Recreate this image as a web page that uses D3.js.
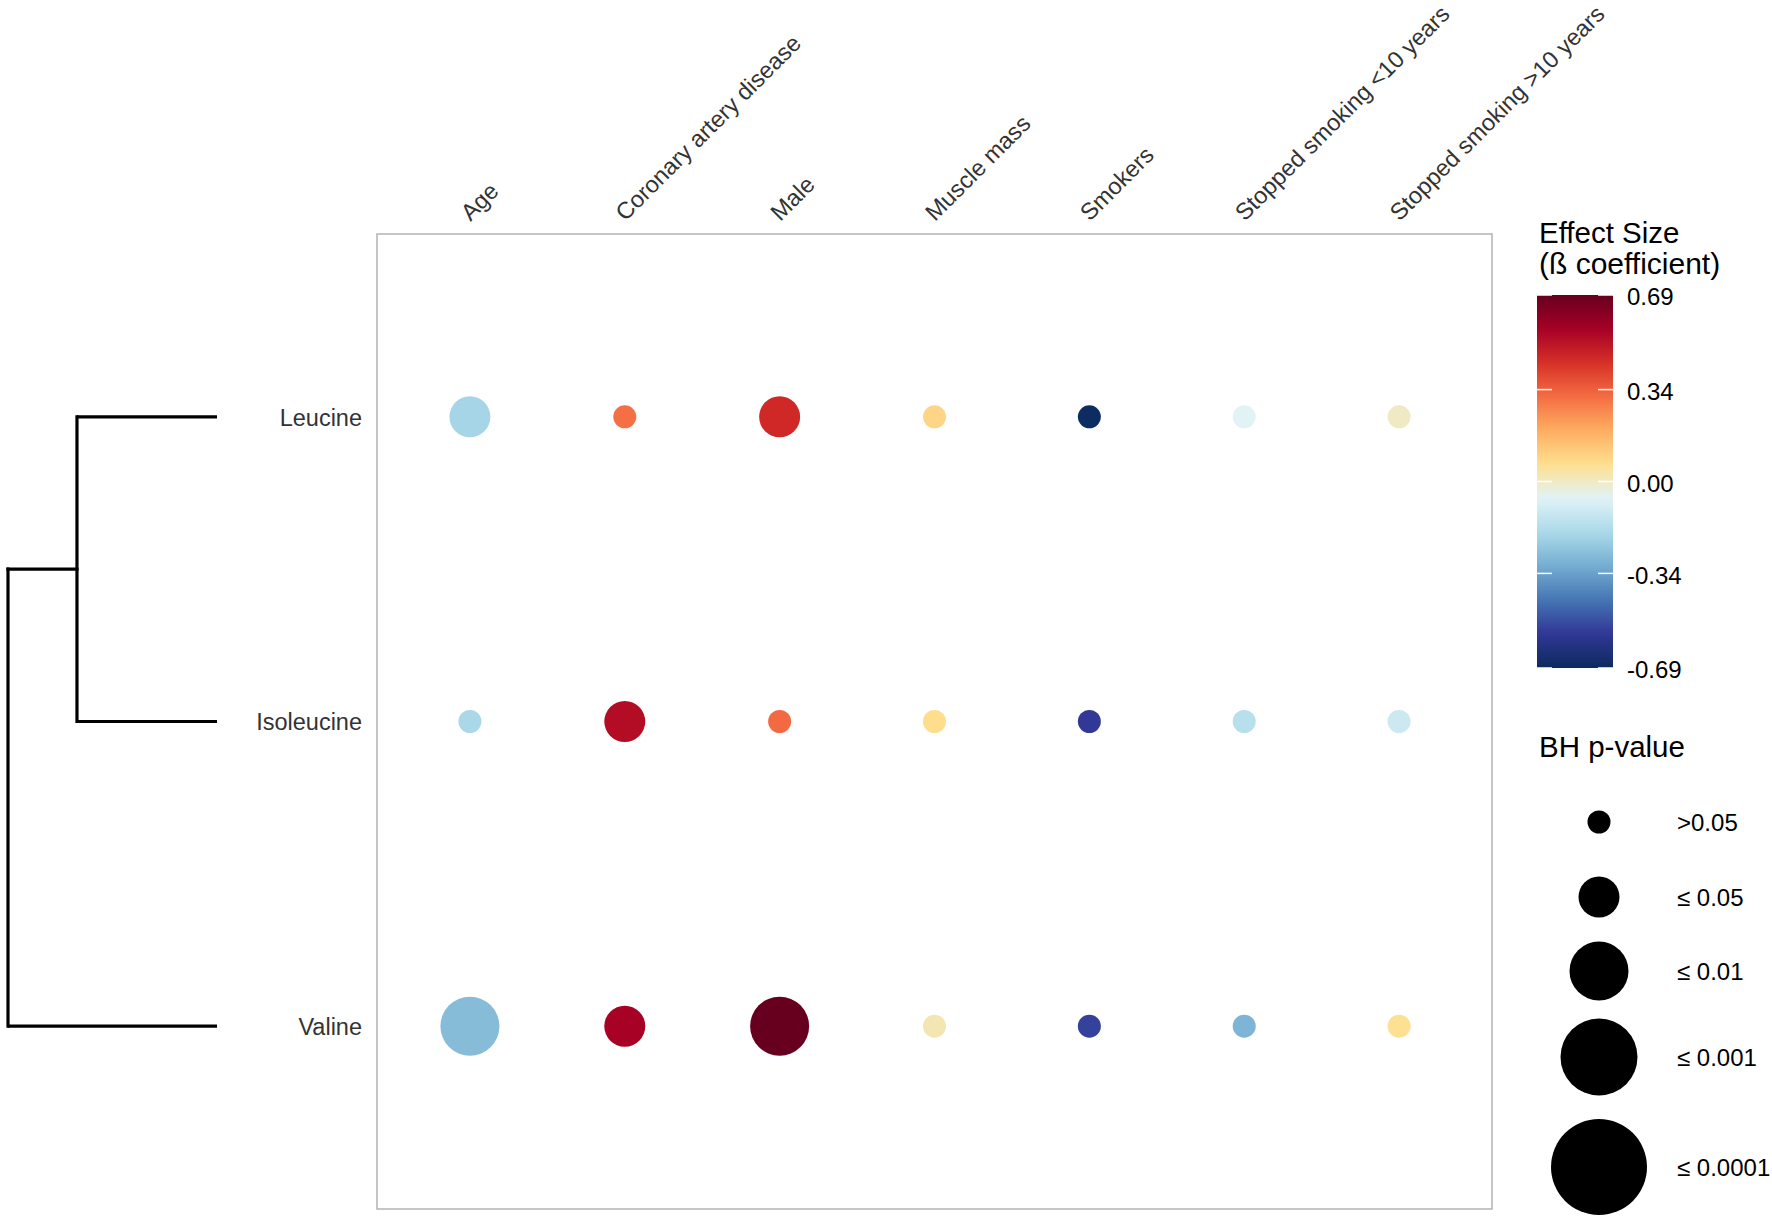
<!DOCTYPE html>
<html>
<head>
<meta charset="utf-8">
<script src="https://cdn.jsdelivr.net/npm/d3@7"></script>
<style>
  html, body { margin: 0; padding: 0; background: #fff; }
  svg { display: block; font-family: "Liberation Sans", Arial, sans-serif; }
</style>
</head>
<body>
<svg id="chart" width="1772" height="1222"></svg>
<script>
// ---------- data ----------
const metabolites = ["Leucine", "Isoleucine", "Valine"];
const covariates = ["Age", "Coronary artery disease", "Male", "Muscle mass", "Smokers",
                    "Stopped smoking <10 years", "Stopped smoking >10 years"];

// effect sizes (beta coefficients), per metabolite, in covariate order
const betaLeucine    = [-0.20, 0.31, 0.46, 0.09, -0.68, -0.06, 0.00];
const betaIsoleucine = [-0.19, 0.53, 0.32, 0.07, -0.56, -0.16, -0.11];
const betaValine     = [-0.27, 0.56, 0.69, 0.02, -0.54, -0.29, 0.06];

// BH p-value categories, per metabolite, in covariate order
const pLeucine    = ["≤ 0.05", ">0.05", "≤ 0.05", ">0.05", ">0.05", ">0.05", ">0.05"];
const pIsoleucine = [">0.05", "≤ 0.05", ">0.05", ">0.05", ">0.05", ">0.05", ">0.05"];
const pValine     = ["≤ 0.01", "≤ 0.05", "≤ 0.01", ">0.05", ">0.05", ">0.05", ">0.05"];

const pCategories = [">0.05", "≤ 0.05", "≤ 0.01", "≤ 0.001", "≤ 0.0001"];
const colorTicks = [0.69, 0.34, 0.00, -0.34, -0.69];

// dendrogram (relative merge heights)
const dendroTree = {height: 1.0, children: [
  {height: 0.67, children: [{name: "Leucine", height: 0}, {name: "Isoleucine", height: 0}]},
  {name: "Valine", height: 0}
]};

// ---------- build ----------
const betaByRow = {Leucine: betaLeucine, Isoleucine: betaIsoleucine, Valine: betaValine};
const pByRow = {Leucine: pLeucine, Isoleucine: pIsoleucine, Valine: pValine};
const cells = [];
metabolites.forEach(m => covariates.forEach((c, i) => {
  cells.push({row: m, col: c, beta: betaByRow[m][i], p: pByRow[m][i]});
}));

const svg = d3.select("#chart");
const panel = {x0: 377, x1: 1492, y0: 234, y1: 1209};

const x = d3.scalePoint().domain(covariates).range([panel.x0, panel.x1]).padding(0.6);
const y = d3.scalePoint().domain(metabolites).range([panel.y0, panel.y1]).padding(0.6);

const paletteColors = ["#0a2b5e", "#313695", "#4575b4", "#74add1", "#abd9e9", "#e0f3f8",
                       "#fee090", "#fdae61", "#f46d43", "#d73027", "#a50026", "#67001f"];
const color = d3.scaleLinear()
  .domain(d3.range(paletteColors.length).map(i => -0.69 + i * 1.38 / (paletteColors.length - 1)))
  .range(paletteColors)
  .interpolate(d3.interpolateRgb)
  .clamp(true);

const radius = d3.scaleOrdinal().domain(pCategories).range([11.5, 20.5, 29.5, 38.5, 48]);

// panel border
svg.append("rect")
  .attr("x", panel.x0).attr("y", panel.y0)
  .attr("width", panel.x1 - panel.x0).attr("height", panel.y1 - panel.y0)
  .attr("fill", "none").attr("stroke", "#b3b3b3").attr("stroke-width", 1.5);

// dots
svg.append("g").selectAll("circle").data(cells).join("circle")
  .attr("cx", d => x(d.col)).attr("cy", d => y(d.row))
  .attr("r", d => radius(d.p))
  .attr("fill", d => color(d.beta));

// top axis (column labels)
const xAxis = svg.append("g").attr("transform", `translate(0,${panel.y0})`)
  .call(d3.axisTop(x).tickSize(0).tickPadding(0));
xAxis.select(".domain").remove();
xAxis.selectAll("text")
  .attr("fill", "#333")
  .style("font-size", "23.5px")
  .style("font-family", "Liberation Sans, Arial, sans-serif")
  .attr("text-anchor", "start")
  .attr("x", 0).attr("y", 0).attr("dy", 0)
  .attr("transform", "translate(0,-12) rotate(-45)");

// left axis (row labels)
const yAxis = svg.append("g").attr("transform", `translate(362,0)`)
  .call(d3.axisLeft(y).tickSize(0).tickPadding(0));
yAxis.select(".domain").remove();
yAxis.selectAll("text")
  .attr("fill", "#333")
  .style("font-size", "23.5px")
  .style("font-family", "Liberation Sans, Arial, sans-serif")
  .attr("dy", "0.35em");

// dendrogram
const root = d3.hierarchy(dendroTree);
const dx = d3.scaleLinear().domain([0, 1.0]).range([217, 8]);
root.eachAfter(n => {
  n.py = n.children ? d3.mean(n.children, c => c.py) : y(n.data.name);
});
const dg = svg.append("g").attr("stroke", "#000").attr("stroke-width", 3.2)
  .attr("fill", "none").attr("stroke-linecap", "square");
root.descendants().filter(n => n.children).forEach(n => {
  const ys = n.children.map(c => c.py);
  dg.append("line").attr("x1", dx(n.data.height)).attr("x2", dx(n.data.height))
    .attr("y1", d3.min(ys)).attr("y2", d3.max(ys));
  n.children.forEach(c => {
    dg.append("line").attr("x1", dx(n.data.height)).attr("x2", dx(c.data.height))
      .attr("y1", c.py).attr("y2", c.py)
      .attr("stroke-linecap", c.children ? "square" : "butt");
  });
});

// ---------- colour legend ----------
const cb = {x: 1537, y0: 295, y1: 668, w: 76};
svg.append("text").attr("x", 1539).attr("y", 243)
  .style("font-size", "29.5px").attr("fill", "#000").text("Effect Size");
svg.append("text").attr("x", 1539).attr("y", 274)
  .style("font-size", "30px").attr("fill", "#000").text("(ß coefficient)");

const cbScale = d3.scaleLinear().domain([0.69, -0.69]).range([cb.y0, cb.y1]);
const defs = svg.append("defs");
const grad = defs.append("linearGradient").attr("id", "cbgrad")
  .attr("x1", 0).attr("y1", 0).attr("x2", 0).attr("y2", 1);
d3.range(0, 1.0001, 0.02).forEach(t => {
  grad.append("stop").attr("offset", t).attr("stop-color", color(0.69 - t * 1.38));
});
svg.append("rect").attr("x", cb.x).attr("y", cb.y0).attr("width", cb.w)
  .attr("height", cb.y1 - cb.y0).attr("fill", "url(#cbgrad)");
const tg = svg.append("g").attr("stroke", "#fff").attr("stroke-width", 1.5);
colorTicks.forEach(v => {
  tg.append("line").attr("x1", cb.x).attr("x2", cb.x + 15).attr("y1", cbScale(v)).attr("y2", cbScale(v));
  tg.append("line").attr("x1", cb.x + cb.w - 15).attr("x2", cb.x + cb.w).attr("y1", cbScale(v)).attr("y2", cbScale(v));
});
const fmt = d3.format(".2f");
const cbAxis = svg.append("g").attr("transform", `translate(${cb.x + cb.w},0)`)
  .call(d3.axisRight(cbScale).tickValues(colorTicks).tickSize(0).tickPadding(14)
        .tickFormat(d => fmt(d).replace("\u2212", "-")));
cbAxis.select(".domain").remove();
cbAxis.selectAll("text").style("font-size", "24px").attr("fill", "#000")
  .attr("dy", "0.4em")
  .style("font-family", "Liberation Sans, Arial, sans-serif");

// ---------- size legend ----------
svg.append("text").attr("x", 1539).attr("y", 757)
  .style("font-size", "29.5px").attr("fill", "#000").text("BH p-value");
const sizeYpos = {">0.05": 822, "≤ 0.05": 897, "≤ 0.01": 971, "≤ 0.001": 1057, "≤ 0.0001": 1167};
const sl = svg.append("g");
sl.selectAll("circle").data(pCategories).join("circle")
  .attr("cx", 1599).attr("cy", d => sizeYpos[d]).attr("r", d => radius(d)).attr("fill", "#000");
sl.selectAll("text").data(pCategories).join("text")
  .attr("x", 1677).attr("y", d => sizeYpos[d]).attr("dy", "0.38em")
  .style("font-size", "24px").attr("fill", "#000").text(d => d);
</script>
</body>
</html>
